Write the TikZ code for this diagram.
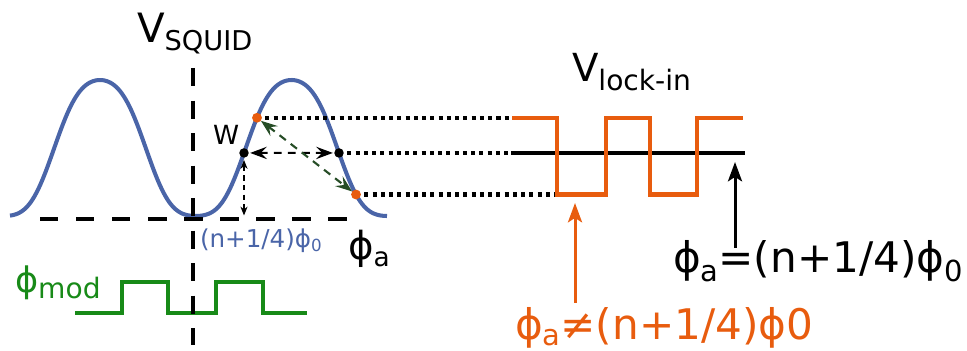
\documentclass[tikz,border=0pt]{standalone}
\usepackage{fontspec}
\setmainfont{DejaVu Sans}
\usetikzlibrary{arrows.meta}
\definecolor{sqblue}{RGB}{74,101,168}
\definecolor{lockorange}{RGB}{232,92,14}
\definecolor{modgreen}{RGB}{24,138,24}
\definecolor{arrgreen}{RGB}{38,77,38}
\newcommand{\fs}[1]{\fontsize{#1}{#1}\selectfont}
\begin{document}
\begin{tikzpicture}[x=0.02cm,y=-0.02cm,
  declare function={thx(\x)=(\x-100)*1.879896; vsq(\x)=151-72.5*cos(thx(\x))-3*cos(2*thx(\x))+4.5*cos(3*thx(\x));},
  lbl/.style={anchor=base west, inner sep=0pt, outer sep=0pt},
  curve/.style={sqblue, line width=2.3pt},
  axis/.style={black, line width=2.3pt, dash pattern=on 10.5pt off 10pt},
  vaxis/.style={black, line width=2.3pt, dash pattern=on 10.5pt off 8pt},
  dotline/.style={black, line width=2.3pt, dash pattern=on 2.3pt off 2.4pt},
  wave/.style={line width=2.3pt, line join=miter},
  gwave/.style={modgreen, line width=2pt, line join=miter},
  dotb/.style={fill=black},
  doto/.style={fill=lockorange},
  harr/.style={black, line width=1.2pt, dash pattern=on 4.5pt off 3.5pt, {Stealth[length=9.5pt,width=7pt,inset=3.5pt]}-{Stealth[length=9.5pt,width=7pt,inset=3.5pt]}},
  garr/.style={arrgreen, line width=1.2pt, dash pattern=on 4.5pt off 3.5pt, {Stealth[length=9.5pt,width=7pt,inset=3.5pt]}-{Stealth[length=9.5pt,width=7pt,inset=3.5pt]}},
  varr/.style={black, line width=0.7pt, dash pattern=on 3pt off 2.5pt, {Stealth[length=5pt,width=4pt,inset=1.5pt]}-{Stealth[length=5pt,width=4pt,inset=1.5pt]}},
  bigarr/.style={line width=1.7pt, -{Stealth[length=11pt,width=8pt,inset=2.5pt]}}
]
\useasboundingbox (0,0) rectangle (967,351);

% phi_mod square wave
\draw[gwave] (75,313) -- (122,313) -- (122,282) -- (168,282) -- (168,313) -- (216,313) -- (216,282) -- (263,282) -- (263,313) -- (307,313);

% SQUID curve
\draw[curve] plot[domain=10:387, samples=200, smooth] (\x, {vsq(\x)});

% axes
\coordinate (vtop) at (193,68);
\coordinate (vbot) at (193,345);
\coordinate (hl) at (40,219);
\coordinate (hr) at (358,219);
\draw[vaxis] (vtop) -- (vbot);
\draw[axis] (hl) -- (hr);

% points on the curve
\coordinate (oT) at (257,{vsq(257)});
\coordinate (W) at (244,{vsq(244)});
\coordinate (R) at (339,{vsq(339)});
\coordinate (oB) at (356,{vsq(356)});

% lock-in square wave and line
\coordinate (s0) at (512,{vsq(257)});
\coordinate (s1) at (557,{vsq(257)});
\coordinate (s2) at (557,{vsq(356)});
\coordinate (s3) at (606,{vsq(356)});
\coordinate (s4) at (606,{vsq(257)});
\coordinate (s5) at (650,{vsq(257)});
\coordinate (s6) at (650,{vsq(356)});
\coordinate (s7) at (697,{vsq(356)});
\coordinate (s8) at (697,{vsq(257)});
\coordinate (s9) at (743,{vsq(257)});
\coordinate (l0) at (511,{vsq(339)});
\coordinate (l1) at (745,{vsq(339)});

% dotted projections
\draw[dotline] (oT) -- (oT -| s0);
\draw[dotline] (R) -- (R -| l0);
\draw[dotline] (oB) -- (oB -| s2);

\draw[black, line width=2.3pt] (l0) -- (l1);
\draw[wave, lockorange] (s0) -- (s1) -- (s2) -- (s3) -- (s4) -- (s5) -- (s6) -- (s7) -- (s8) -- (s9);

% arrows around the working point
\draw[harr, shorten <=3.5pt, shorten >=3.5pt] (W) -- (R);
\draw[garr, shorten <=2.8pt, shorten >=2.8pt] (oT) -- (oB);
\draw[varr, shorten <=4pt, shorten >=2pt] (W) -- (W |- hl);

% dots
\fill[dotb] (W) circle[radius=2.7pt];
\fill[dotb] (R) circle[radius=2.7pt];
\fill[doto] (oT) circle[radius=2.8pt];
\fill[doto] (oB) circle[radius=2.8pt];

% labels
\node[lbl] (vsquidlbl) at (137,43) {\fs{23}V\raisebox{-4.5pt}{\fs{15.5}SQUID}};
\node[lbl] (vlocklbl) at (572,82) {\fs{22}V\raisebox{-5pt}{\fs{16}lock-in}};
\node[lbl] (wlbl) at (213,145) {\fs{15}W};
\node[lbl, text=sqblue] (nlbl) at (200,248) {\fs{14}(n+1/4)ϕ\raisebox{-2pt}{\fs{9.5}0}};
\node[lbl] (philbl) at (348,259) {\fs{22}ϕ\raisebox{-4.5pt}{\fs{15}a}};
\node[lbl, text=modgreen] (modlbl) at (15,293) {\fs{20}ϕ\raisebox{-3pt}{\fs{16}mod}};
\node[lbl] (eqlbl) at (673,273) {\fs{24}ϕ\raisebox{-5pt}{\fs{16.5}a}=(n+1/4)ϕ\raisebox{-5pt}{\fs{16.5}0}};
\node[lbl, text=lockorange] (neqlbl) at (515,339) {\fs{24}ϕ\raisebox{-3.8pt}{\fs{16.5}a}≠(n+1/4)ϕ0};

% pointer arrows
\coordinate (bA0) at (735,248);
\coordinate (bA1) at (735,162);
\coordinate (oA0) at (575,303);
\coordinate (oA1) at (575,203);
\draw[bigarr, black] (bA0) -- (bA1);
\draw[bigarr, lockorange] (oA0) -- (oA1);
\end{tikzpicture}
\end{document}
